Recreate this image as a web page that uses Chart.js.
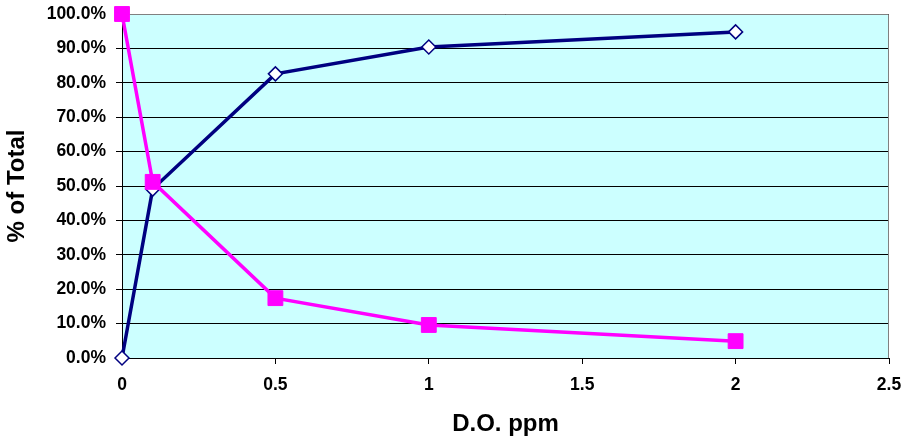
<!DOCTYPE html>
<html>
<head>
<meta charset="utf-8">
<script src="https://cdn.jsdelivr.net/npm/chart.js@4"></script>
<style>
  html, body { margin: 0; padding: 0; background: #ffffff; }
  #wrap { width: 912px; height: 443px; }
</style>
</head>
<body>
<div id="wrap"><canvas id="chart" width="912" height="443"></canvas></div>
<script>
// D.O. ppm values on the x axis
const doPpm = [0, 0.1, 0.5, 1, 2];
// % of total
const navySeries = [0.0, 49.1, 82.6, 90.4, 94.8];
const magentaSeries = [100.0, 51.2, 17.4, 9.6, 4.9];

const xTitle = 'D.O. ppm';
const yTitle = '% of Total';

const toPoints = (xs, ys) => xs.map((x, i) => ({ x: x, y: ys[i] }));

const plotBackground = {
    id: 'plotBackground',
    beforeDraw(chart) {
        const { ctx, chartArea: a } = chart;
        ctx.save();
        ctx.fillStyle = '#CCFFFF';
        ctx.fillRect(a.left, a.top, a.right - a.left, a.bottom - a.top);
        ctx.restore();
    },
    beforeDatasetsDraw(chart) {
        const { ctx, chartArea: a } = chart;
        ctx.save();
        ctx.strokeStyle = '#808080';
        ctx.lineWidth = 1;
        ctx.beginPath();
        ctx.moveTo(a.left, a.top + 0.5);
        ctx.lineTo(a.right - 0.5, a.top + 0.5);
        ctx.lineTo(a.right - 0.5, a.bottom);
        ctx.stroke();
        ctx.restore();
    }
};

const tickFont = { family: 'Liberation Sans', size: 17.5, weight: 'bold' };
const titleFont = { family: 'Liberation Sans', size: 24, weight: 'bold' };

new Chart(document.getElementById('chart').getContext('2d'), {
    type: 'line',
    data: {
        datasets: [{
            label: 'navy',
            data: toPoints(doPpm, navySeries),
            borderColor: '#000080',
            borderWidth: 3.5,
            pointStyle: 'rectRot',
            pointRadius: 7,
            pointBackgroundColor: '#ffffff',
            pointBorderColor: '#000080',
            pointBorderWidth: 1.5,
            tension: 0,
            clip: false,
            order: 1
        }, {
            label: 'magenta',
            data: toPoints(doPpm, magentaSeries),
            borderColor: '#FF00FF',
            borderWidth: 3.5,
            pointStyle: 'rect',
            pointRadius: 10.5,
            pointBackgroundColor: '#FF00FF',
            pointBorderColor: '#FF00FF',
            pointBorderWidth: 1,
            tension: 0,
            clip: false,
            order: 0
        }]
    },
    options: {
        responsive: false,
        animation: false,
        layout: {
            padding: { top: 14, right: 23, left: 0, bottom: 0 }
        },
        plugins: {
            legend: { display: false },
            tooltip: { enabled: false }
        },
        scales: {
            x: {
                type: 'linear',
                min: 0,
                max: 2.5,
                ticks: {
                    stepSize: 0.5,
                    color: '#000000',
                    font: tickFont,
                    padding: 11,
                    maxRotation: 0,
                    callback: function(value) {
                        return String(value);
                    }
                },
                grid: {
                    drawOnChartArea: false,
                    drawTicks: true,
                    tickLength: 6,
                    color: '#000000'
                },
                border: { display: true, color: '#000000', width: 1 },
                title: {
                    display: true,
                    text: xTitle,
                    color: '#000000',
                    font: titleFont,
                    padding: { top: 6, bottom: 4 }
                },
                afterFit(scale) {
                    scale.height = 85;
                    scale.paddingLeft = 0;
                    scale.paddingRight = 0;
                }
            },
            y: {
                min: 0,
                max: 100,
                ticks: {
                    stepSize: 10,
                    color: '#000000',
                    font: tickFont,
                    padding: 10,
                    callback: function(value) {
                        return value.toFixed(1) + '%';
                    }
                },
                grid: {
                    color: '#000000',
                    lineWidth: 1,
                    drawTicks: true,
                    tickLength: 6
                },
                border: { display: true, color: '#000000', width: 1 },
                title: {
                    display: true,
                    text: yTitle,
                    color: '#000000',
                    font: titleFont,
                    padding: { top: 3, bottom: 4 }
                },
                afterFit(scale) {
                    scale.width = 122;
                    scale.paddingTop = 0;
                    scale.paddingBottom = 0;
                }
            }
        }
    },
    plugins: [plotBackground]
});
</script>
</body>
</html>
